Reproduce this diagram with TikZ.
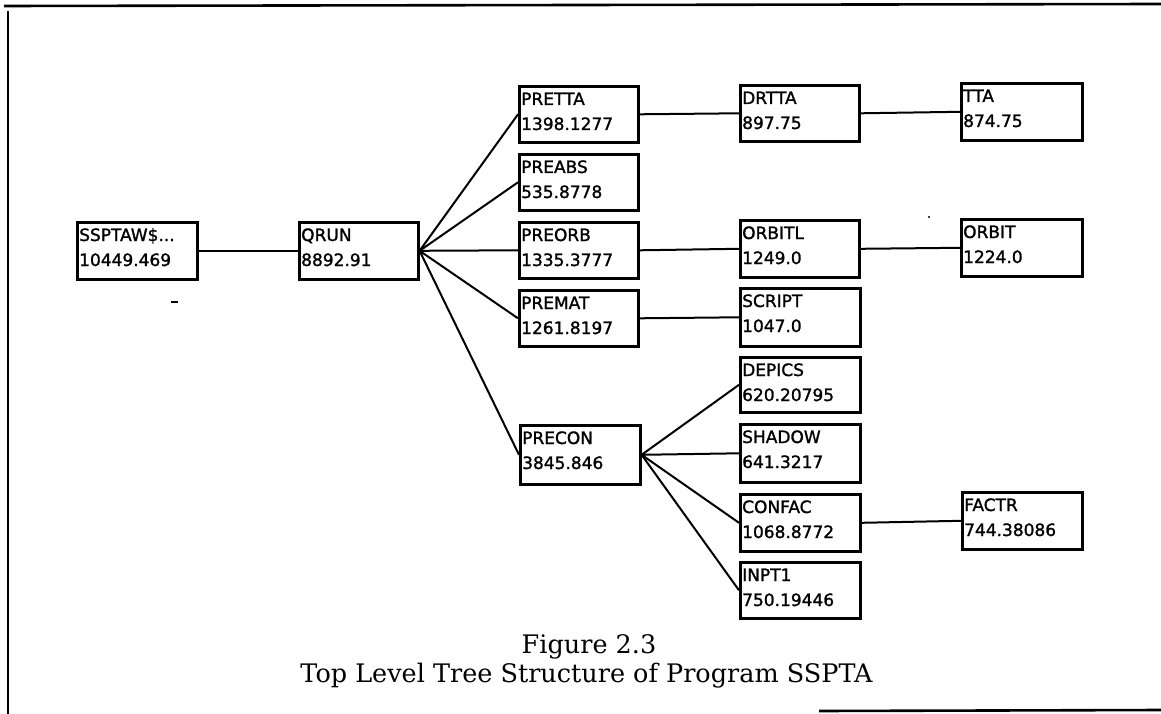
\documentclass[tikz,border=0pt]{standalone}
\usepackage{fontspec}
\newfontfamily\boxfont[FakeBold=1.4]{DejaVu Sans}
\newfontfamily\capfont{DejaVu Serif}
\tikzset{
  fbox/.style={draw, line width=2.6pt, inner sep=0pt},
  lbl/.style={anchor=base west, inner sep=0pt, font=\boxfont\fontsize{17}{20}\selectfont},
  link/.style={line width=2pt},
  frameline/.style={line width=2.6pt},
  captext/.style={anchor=base, inner sep=0pt, font=\capfont\fontsize{25.5}{30}\selectfont},
}
\newcommand\callbox[7]{%
  \pgfmathsetmacro\bw{#4-#2}\pgfmathsetmacro\bh{#5-#3}%
  \node[fbox, anchor=north west, minimum width=\bw pt, minimum height=\bh pt] (#1) at (#2,#3) {};
  \node[lbl] (#1-a) at ([xshift=3pt,yshift=-20pt]#1.north west) {#6};
  \node[lbl] (#1-b) at ([xshift=3pt,yshift=-45pt]#1.north west) {#7};
}
\begin{document}
\begin{tikzpicture}[x=1pt,y=-1pt]
\useasboundingbox (0,0) rectangle (1161,714);
% frame
\draw[frameline] (4,6) -- (1161,4);
\draw[frameline] (8,11) -- (8,714);
\draw[frameline] (819,711) -- (1161,710);
% boxes
\callbox{ssptaw}{76}{221}{196}{278}{SSPTAW\$...}{10449.469}
\callbox{qrun}{298}{221}{417}{278}{QRUN}{8892.91}
\callbox{pretta}{518}{85}{637}{141}{PRETTA}{1398.1277}
\callbox{preabs}{518}{153}{637}{209}{PREABS}{535.8778}
\callbox{preorb}{518}{221}{637}{277}{PREORB}{1335.3777}
\callbox{premat}{518}{289}{637}{345}{PREMAT}{1261.8197}
\callbox{precon}{519}{424}{639}{483}{PRECON}{3845.846}
\callbox{drtta}{739}{84}{858}{140}{DRTTA}{897.75}
\callbox{orbitl}{739}{219}{858}{276}{ORBITL}{1249.0}
\callbox{script}{739}{287}{859}{345}{SCRIPT}{1047.0}
\callbox{depics}{739}{356}{859}{411}{DEPICS}{620.20795}
\callbox{shadow}{739}{423}{859}{481}{SHADOW}{641.3217}
\callbox{confac}{739}{493}{859}{550}{CONFAC}{1068.8772}
\callbox{inpt}{739}{561}{859}{617}{INPT1}{750.19446}
\callbox{tta}{960}{82}{1081}{139}{TTA}{874.75}
\callbox{orbit}{960}{218}{1081}{275}{ORBIT}{1224.0}
\callbox{factr}{961}{491}{1081}{548}{FACTR}{744.38086}
% connectors
\draw[link] (ssptaw.east) -- (qrun.west);
\foreach \c in {pretta,preabs,preorb,premat,precon}
  \draw[link] (qrun.east) -- (\c.west);
\draw[link] (pretta.east) -- (drtta.west);
\draw[link] (drtta.east) -- (tta.west);
\draw[link] (preorb.east) -- (orbitl.west);
\draw[link] (orbitl.east) -- (orbit.west);
\draw[link] (premat.east) -- (script.west);
\foreach \c in {depics,shadow,confac,inpt}
  \draw[link] (precon.east) -- (\c.west);
\draw[link] (confac.east) -- (factr.west);
% small marks
\draw[line width=1.2pt] (171,302) -- (178,302);
\fill (929,217) circle (1.2pt);
% caption
\node[captext] (cap1) at (589,653) {Figure 2.3};
\node[captext] (cap2) at (586.5,682) {Top Level Tree Structure of Program SSPTA};
\end{tikzpicture}
\end{document}
